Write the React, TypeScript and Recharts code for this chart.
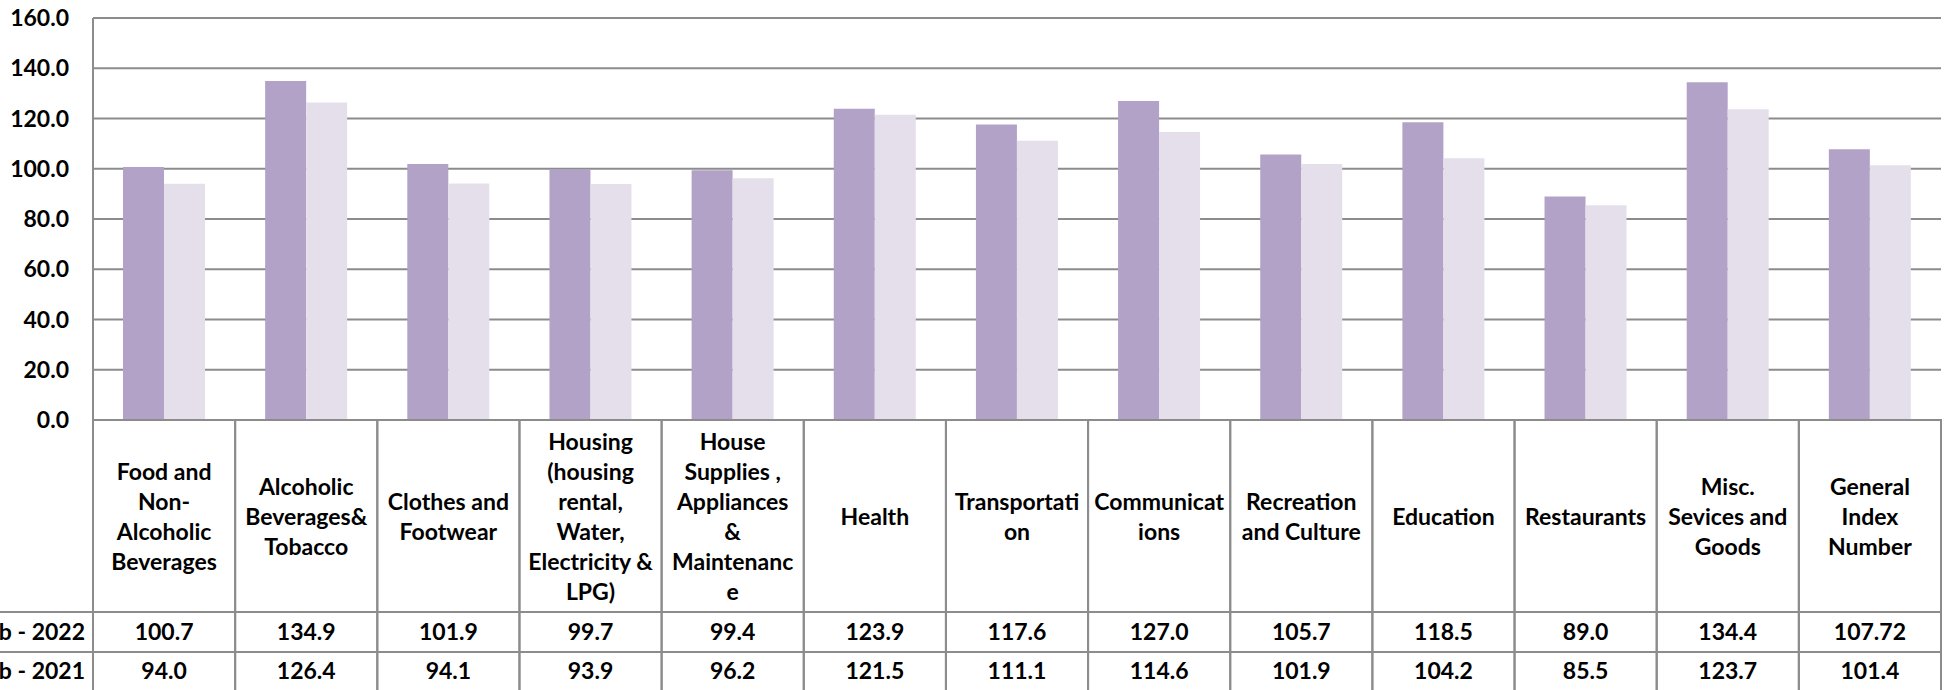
import { BarChart, Bar, XAxis, YAxis, CartesianGrid } from "recharts";

const categories = [
  "Food and\nNon-\nAlcoholic\nBeverages",
  "Alcoholic\nBeverages&\nTobacco",
  "Clothes and\nFootwear",
  "Housing\n(housing\nrental,\nWater,\nElectricity &\nLPG)",
  "House\nSupplies ,\nAppliances\n&\nMaintenanc\ne",
  "Health",
  "Transportati\non",
  "Communicat\nions",
  "Recreation\nand Culture",
  "Education",
  "Restaurants",
  "Misc.\nSevices and\nGoods",
  "General\nIndex\nNumber",
];

const feb2022 = [100.7, 134.9, 101.9, 99.7, 99.4, 123.9, 117.6, 127.0, 105.7, 118.5, 89.0, 134.4, 107.72];
const feb2021 = [94.0, 126.4, 94.1, 93.9, 96.2, 121.5, 111.1, 114.6, 101.9, 104.2, 85.5, 123.7, 101.4];
const seriesNames = ["Feb - 2022", "Feb - 2021"];
const yTicks = [0, 20, 40, 60, 80, 100, 120, 140, 160];

const data = categories.map((name, i) => ({ name, feb2022: feb2022[i], feb2021: feb2021[i] }));

const FONT = "Lato, 'Noto Sans', sans-serif";
const FONT_SIZE = 23;
const LINE = "#8c8c8c";
const DARK = "#b2a2c7";
const LIGHT = "#e5dfec";

const W = 1950;
const H = 690;
const AXIS_W = 93;
const RIGHT = 9;
const XAXIS_H = 270;
const HEADER_H = 192;
const ROW_H = 40;
const LINE_H = 30;
const BAND = (W - AXIS_W - RIGHT) / categories.length;

function fmt(v: number) {
  return Number.isInteger(v) ? v.toFixed(1) : String(v);
}

const textStyle = { fontFamily: FONT, fontSize: FONT_SIZE, fontWeight: 700, fill: "#000" };

function TableTick(props: any) {
  const { x, y, payload, index } = props;
  const left = x - BAND / 2;
  const lines = String(payload.value).split("\n");
  const mid = y + HEADER_H / 2 + 1;
  const row1 = y + HEADER_H;
  const row2 = row1 + ROW_H;
  return (
    <g>
      <rect x={left} y={y} width={BAND} height={HEADER_H} fill="none" stroke={LINE} strokeWidth={2} />
      <rect x={left} y={row1} width={BAND} height={ROW_H} fill="none" stroke={LINE} strokeWidth={2} />
      <rect x={left} y={row2} width={BAND} height={ROW_H + 4} fill="none" stroke={LINE} strokeWidth={2} />
      {lines.map((l, i) => (
        <text
          key={i}
          x={x}
          y={mid + (i - (lines.length - 1) / 2) * LINE_H + 8}
          textAnchor="middle"
          {...textStyle}
        >
          {l}
        </text>
      ))}
      <text x={x} y={row1 + ROW_H / 2 + 8} textAnchor="middle" {...textStyle}>
        {fmt(feb2022[index])}
      </text>
      <text x={x} y={row2 + ROW_H / 2 + 7} textAnchor="middle" {...textStyle}>
        {fmt(feb2021[index])}
      </text>
      {index === 0 && (
        <g>
          <line x1={0} x2={left} y1={row1} y2={row1} stroke={LINE} strokeWidth={2} />
          <line x1={0} x2={left} y1={row2} y2={row2} stroke={LINE} strokeWidth={2} />
          <text x={left - 8} y={row1 + ROW_H / 2 + 8} textAnchor="end" {...textStyle}>
            {seriesNames[0]}
          </text>
          <text x={left - 8} y={row2 + ROW_H / 2 + 7} textAnchor="end" {...textStyle}>
            {seriesNames[1]}
          </text>
        </g>
      )}
    </g>
  );
}

export default function App() {
  return (
    <div style={{ position: "absolute", left: 0, top: 0, width: W, height: H, background: "#fff" }}>
      <BarChart
        width={W}
        height={H}
        data={data}
        margin={{ top: 18, right: RIGHT, bottom: 0, left: 0 }}
        barGap={0}
      >
        <CartesianGrid vertical={false} stroke={LINE} strokeWidth={2} />
        <YAxis
          width={AXIS_W}
          domain={[0, 160]}
          ticks={yTicks}
          interval={0}
          tickFormatter={(v: number) => v.toFixed(1)}
          tickLine={false}
          tickSize={0}
          tickMargin={24}
          axisLine={{ stroke: LINE, strokeWidth: 2 }}
          tick={textStyle}
        />
        <XAxis
          dataKey="name"
          height={XAXIS_H}
          interval={0}
          tickLine={false}
          tickSize={0}
          tickMargin={0}
          axisLine={{ stroke: LINE, strokeWidth: 2 }}
          tick={(p: any) => <TableTick {...p} />}
        />
        <Bar dataKey="feb2022" name={seriesNames[0]} fill={DARK} barSize={41} isAnimationActive={false} />
        <Bar dataKey="feb2021" name={seriesNames[1]} fill={LIGHT} barSize={41} isAnimationActive={false} />
      </BarChart>
    </div>
  );
}
